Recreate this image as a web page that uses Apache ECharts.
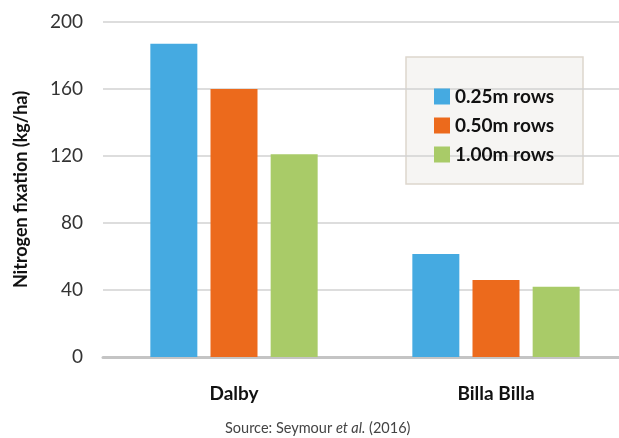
<!DOCTYPE html>
<html>
<head>
<meta charset="utf-8">
<script src="https://cdn.jsdelivr.net/npm/echarts@6/dist/echarts.min.js"></script>
<style>
  html, body { margin: 0; padding: 0; background: #fff; overflow: hidden; }
  #chart { width: 630px; height: 438px; }
</style>
</head>
<body>
<div id="chart"></div>
<script>
// data
var sites = ['Dalby', 'Billa Billa']
var rows025 = [187, 61.5]
var rows050 = [160, 46]
var rows100 = [121, 42]
var yTicks = [0, 40, 80, 120, 160, 200]

// chart div is a bit wider than the window so the plot can run past the right edge like the original
var chart = echarts.init(document.getElementById('chart'), null, { renderer: 'canvas' })

var font = 'Lato, "Open Sans", sans-serif'

function barSeries(name, data, color) {
  return {
    name: name,
    type: 'bar',
    data: data,
    barWidth: 47,
    barGap: '28%',
    itemStyle: { color: color }
  }
}

var option = {
  animation: false,
  textStyle: { fontFamily: font },
  grid: {
    left: 103,
    top: 22,
    width: 524,
    height: 335,
    containLabel: false
  },
  xAxis: {
    type: 'category',
    data: sites,
    axisTick: { show: false },
    axisLine: { lineStyle: { color: '#c4c4c4', width: 3 } },
    axisLabel: {
      margin: 27,
      color: '#111',
      fontSize: 19,
      fontWeight: 'bold',
      fontFamily: font
    }
  },
  yAxis: {
    type: 'value',
    min: yTicks[0],
    max: yTicks[yTicks.length - 1],
    interval: 40,
    name: 'Nitrogen fixation (kg/ha)',
    nameLocation: 'middle',
    nameGap: 73,
    nameTextStyle: { fontSize: 18, fontWeight: 'bold', color: '#111', fontFamily: font },
    axisLine: { show: false },
    axisTick: { show: false },
    axisLabel: { margin: 20, fontSize: 19, color: '#333', fontFamily: font },
    splitLine: { lineStyle: { color: '#d2d2d2', width: 1.5 } }
  },
  legend: {
    orient: 'vertical',
    left: 429,
    top: 82,
    itemWidth: 16,
    itemHeight: 16,
    itemGap: 10,
    icon: 'rect',
    textStyle: { fontSize: 19, lineHeight: 19, fontWeight: 'bold', color: '#111', fontFamily: font },
    data: ['0.25m rows', '0.50m rows', '1.00m rows']
  },
  graphic: [
    {
      type: 'rect',
      z: -1,
      shape: { x: 406, y: 57, width: 177, height: 127 },
      style: { fill: '#f6f5f3', stroke: '#ddd6cd', lineWidth: 1.5 }
    },
    {
      type: 'text',
      left: 225,
      top: 421,
      style: {
        text: 'Source: Seymour {i|et al.} (2016)',
        fontSize: 14.5,
        fill: '#444',
        fontFamily: font,
        rich: {
          i: { fontStyle: 'italic', fontSize: 14.5, fill: '#444', fontFamily: font }
        }
      }
    }
  ],
  series: [
    barSeries('0.25m rows', rows025, '#45aae1'),
    barSeries('0.50m rows', rows050, '#ec6a1c'),
    barSeries('1.00m rows', rows100, '#a9cb68')
  ]
}

chart.setOption(option)
</script>
</body>
</html>
